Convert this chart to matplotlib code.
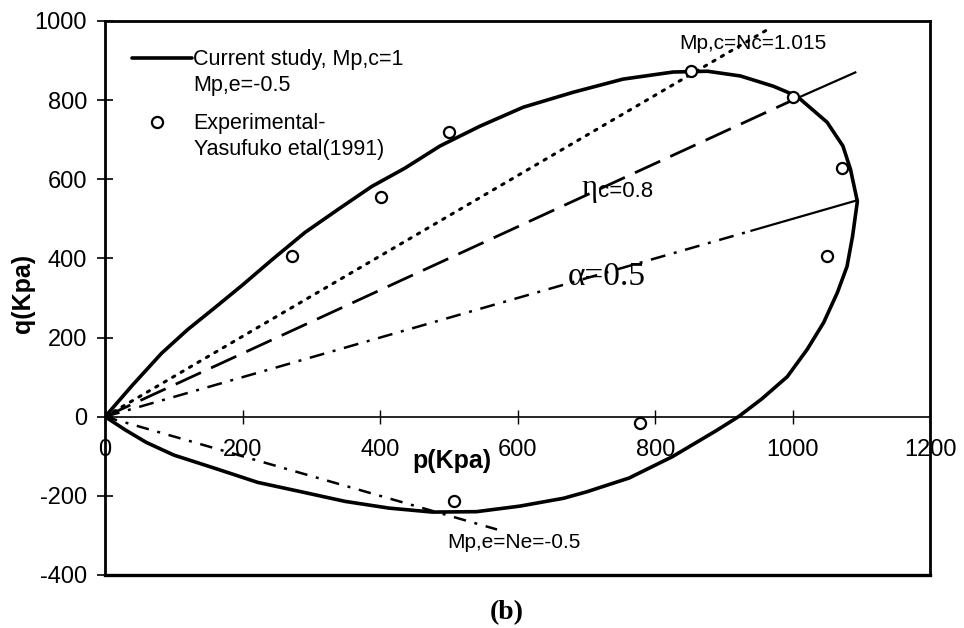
import matplotlib
matplotlib.use("Agg")
import matplotlib.pyplot as plt
from matplotlib.lines import Line2D

# ---- data ----
curve_p = [0, 40, 82, 120, 160, 200, 243, 291, 339, 388, 436, 487, 545, 608, 681, 753,
           826, 876, 924, 972, 1006, 1050, 1073, 1084, 1094,
           1087, 1079, 1065, 1045, 1021, 992, 955, 921, 889, 825, 762, 700, 667, 603,
           540, 476, 413, 349, 286, 222, 159, 100, 60, 30, 0]
curve_q = [0, 80, 160, 220, 276, 333, 397, 466, 524, 582, 628, 684, 734, 782, 820, 853,
           871, 873, 861, 835, 810, 744, 684, 625, 544,
           456, 380, 314, 238, 170, 101, 45, 0, -35, -101, -155, -190, -206, -226,
           -240, -241, -231, -214, -190, -166, -130, -97, -65, -34, 0]

exp_p = [272, 401, 500, 852, 1001, 1072, 1050, 778, 507]
exp_q = [405, 554, 719, 874, 807, 628, 405, -17, -214]

nc_p = [0, 965]
nc_q = [0, 980]
eta_p = [0, 1000, 1091]
eta_q = [0, 800, 870]
alpha_p = [0, 940, 1094]
alpha_q = [0, 470, 547]
ne_p = [0, 570]
ne_q = [0, -285]

xticks = [0, 200, 400, 600, 800, 1000, 1200]
yticks = [-400, -200, 0, 200, 400, 600, 800, 1000]

plt.rcParams['font.family'] = ['Liberation Sans', 'DejaVu Sans']
plt.rcParams['axes.unicode_minus'] = False

fig = plt.figure(figsize=(9.64, 6.28), dpi=100)
ax = fig.add_axes([0.109, 0.0844, 0.856, 0.8822])

curve_line, = ax.plot(curve_p, curve_q, color='black', lw=2.6, solid_joinstyle='round',
                      solid_capstyle='round', zorder=3)
exp_line, = ax.plot(exp_p, exp_q, linestyle='none', marker='o', ms=8, mfc='white', mec='black',
                    mew=1.6, zorder=4)
ax.plot(nc_p, nc_q, color='black', lw=2.2, linestyle=(0, (0.8, 2.4)), dash_capstyle='round')
ax.plot(eta_p[:2], eta_q[:2], color='black', lw=2.0, linestyle=(0, (10, 4)))
ax.plot(eta_p[1:], eta_q[1:], color='black', lw=1.6, linestyle='-')
ax.plot(alpha_p[:2], alpha_q[:2], color='black', lw=1.8, linestyle=(0, (6, 3.5, 1.2, 3.5)))
ax.plot(alpha_p[1:], alpha_q[1:], color='black', lw=1.6, linestyle='-')
ax.plot(ne_p, ne_q, color='black', lw=1.8, linestyle=(0, (5, 3.5, 1.2, 3.5)))

ax.set_xlim(0, 1200)
ax.set_ylim(-400, 1000)
ax.set_xticks(xticks)
ax.set_yticks(yticks)

for s in ['left', 'top', 'right']:
    ax.spines[s].set_linewidth(2.0)
ax.spines['bottom'].set_position(('data', 0))
ax.spines['bottom'].set_linewidth(1.2)
ax.axhline(-400, color='black', lw=2.4, clip_on=False)

ax.tick_params(axis='y', direction='inout', length=11.5, width=1.2, pad=7.2, labelsize=17)
ax.tick_params(axis='x', direction='inout', length=9.4, width=1.0, pad=11.5, labelsize=17)

ax.text(505, -112, 'p(Kpa)', fontsize=18, fontweight='bold', ha='center', va='center')
ax.set_ylabel('q(Kpa)', fontsize=18, fontweight='bold')
ax.yaxis.set_label_coords(-0.0848, 0.508)

ax.text(942, 944, 'Mp,c=Nc=1.015', fontsize=15, ha='center', va='center')
ax.text(716, 557, 'η', fontsize=22, family='Liberation Serif', ha='right', va='baseline')
ax.text(717, 555, 'c=0.8', fontsize=16, ha='left', va='baseline')
ax.text(673, 334, 'α=0.5', fontsize=24, family='Liberation Serif', ha='left', va='baseline')
ax.text(595, -319, 'Mp,e=Ne=-0.5', fontsize=15, ha='center', va='center')

blank1 = Line2D([], [], linestyle='none')
blank2 = Line2D([], [], linestyle='none')
leg1 = ax.legend([curve_line, blank1], ['Current study, Mp,c=1', 'Mp,e=-0.5'],
                 loc='upper left', bbox_to_anchor=(0.0327, 0.9486), frameon=False, fontsize=15.5,
                 handlelength=2.79, handletextpad=0.05, labelspacing=0.19, borderpad=0,
                 borderaxespad=0)
ax.add_artist(leg1)
leg2 = ax.legend([exp_line, blank2], ['Experimental-', 'Yasufuko etal(1991)'],
                 loc='upper left', bbox_to_anchor=(0.0267, 0.833), frameon=False, fontsize=15.5,
                 handlelength=2.79, handletextpad=0.3, labelspacing=0.19, borderpad=0,
                 borderaxespad=0)

fig.text(0.526, 0.024, '(b)', fontsize=20, fontweight='bold', family='Liberation Serif',
         ha='center', va='center')

fig.savefig('out.png', dpi=100)
